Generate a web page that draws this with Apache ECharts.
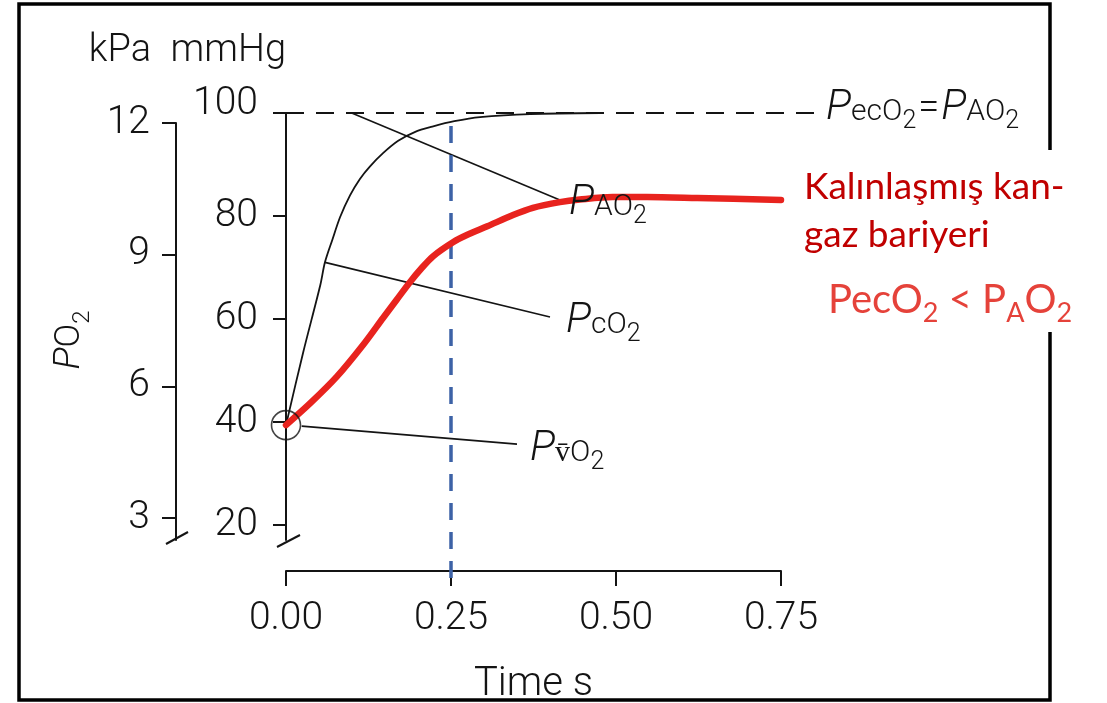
<!DOCTYPE html>
<html><head><meta charset="utf-8">
<script src="https://cdn.jsdelivr.net/npm/echarts@6/dist/echarts.min.js"></script>
<style>html,body{margin:0;padding:0;background:#fff}#c{width:1107px;height:703px}</style>
</head><body><div id="c"></div>
<script>
// ---------------- data ----------------
const mmHgTicks = [20, 40, 60, 80, 100];
const kPaTicks = [3, 6, 9, 12];
const timeTicks = [0, 0.25, 0.5, 0.75];

// normal capillary PO2 (black curve)
const normalTime = [0.000, 0.026, 0.052, 0.059, 0.070, 0.082, 0.097, 0.112, 0.127, 0.147, 0.170, 0.195, 0.223, 0.255, 0.294, 0.370, 0.476];
const normalPO2  = [39.4, 53.5, 66.6, 71.0, 75.3, 79.8, 84.0, 87.2, 89.6, 92.2, 94.6, 96.3, 97.4, 98.4, 99.2, 99.8, 100.0];

// thickened barrier capillary PO2 (red curve)
const thickTime = [0.000, 0.038, 0.077, 0.117, 0.147, 0.168, 0.188, 0.205, 0.223, 0.253, 0.274, 0.305, 0.344, 0.374, 0.415, 0.445, 0.495, 0.547, 0.623, 0.750];
const thickPO2  = [39.4, 43.8, 48.8, 55.0, 60.2, 63.8, 67.2, 69.8, 72.2, 74.9, 76.3, 78.0, 80.2, 81.6, 82.7, 83.2, 83.7, 83.7, 83.5, 83.1];

const alveolarPO2 = 100;     // PAO2 (dashed line)
const venousPO2 = 39.4;      // PvO2 (circle at t = 0)
const markerTime = 0.25;     // blue dashed line

// leader lines [time, PO2] pairs
const leaderPAO2 = [[0.0995, 100], [0.415, 83.1]];
const leaderPcO2 = [[0.059, 71.0], [0.400, 60.4]];
const leaderPvO2 = [[0.0238, 39.2], [0.350, 35.7]];

// ---------------- layout ----------------
const PX_PER_S = 660;
const G_LEFT = 286, G_TOP = 113, G_BOTTOM = 540, G_RIGHT = 820;
const K_LEFT = 176, K_TOP = 123;
const X_AXIS_Y = 571, X_AXIS_RIGHT = 781;
const mmHgPerPx = 1 / 5.15;
const kPaPerPx = 1 / 43.9;

const ink = '#141414';
const FONT = 'Roboto';
const FW = 300;

const pairs = (a, b) => a.map((v, i) => [v, b[i]]);

const chart = echarts.init(document.getElementById('c'), null, {renderer: 'canvas'});

const leaderSeries = (data) => ({
  type: 'line', xAxisIndex: 0, yAxisIndex: 0, data, showSymbol: false, clip: false,
  lineStyle: {color: ink, width: 1.6}, silent: true, z: 2
});

const option = {
  backgroundColor: '#fff',
  animation: false,
  grid: [
    {left: G_LEFT, top: G_TOP, width: G_RIGHT - G_LEFT, height: G_BOTTOM - G_TOP, outerBoundsMode: 'none', containLabel: false},
    {left: K_LEFT, top: K_TOP, width: 10, height: G_BOTTOM - K_TOP, outerBoundsMode: 'none', containLabel: false},
    {left: G_LEFT, top: G_TOP, width: X_AXIS_RIGHT - G_LEFT, height: X_AXIS_Y - G_TOP, outerBoundsMode: 'none', containLabel: false}
  ],
  xAxis: [
    {gridIndex: 0, type: 'value', min: 0, max: (G_RIGHT - G_LEFT) / PX_PER_S, show: false},
    {gridIndex: 1, type: 'value', min: 0, max: 1, show: false},
    {gridIndex: 2, type: 'value', min: 0, max: 0.75, interval: 0.25,
      axisLine: {show: true, onZero: false, lineStyle: {color: ink, width: 2}},
      axisTick: {show: true, inside: false, length: 15, lineStyle: {color: ink, width: 2}, customValues: timeTicks},
      axisLabel: {show: true, margin: 29, fontSize: 39, fontFamily: FONT, fontWeight: FW, color: ink, customValues: timeTicks,
        formatter: v => Number(v).toFixed(2)},
      splitLine: {show: false},
      name: 'Time s', nameLocation: 'middle', nameGap: 94,
      nameTextStyle: {fontSize: 40, fontFamily: FONT, fontWeight: FW, color: ink}
    }
  ],
  yAxis: [
    {gridIndex: 0, type: 'value', min: 100 - (G_BOTTOM - G_TOP) * mmHgPerPx, max: 100,
      axisLine: {show: true, onZero: false, lineStyle: {color: ink, width: 2}},
      axisTick: {show: true, inside: false, length: 13, lineStyle: {color: ink, width: 2}, customValues: mmHgTicks},
      axisLabel: {show: true, margin: 28, fontSize: 39, fontFamily: FONT, fontWeight: FW, color: ink, customValues: mmHgTicks,
        formatter: v => v === 100 ? '{up|100}' : String(v),
        rich: {up: {fontSize: 39, fontFamily: FONT, fontWeight: FW, color: ink, padding: [0, 0, 17, 0]}}},
      splitLine: {show: false},
      name: 'mmHg', nameLocation: 'end', nameGap: 43,
      nameTextStyle: {fontSize: 38, fontFamily: FONT, fontWeight: FW, color: ink, align: 'right', verticalAlign: 'bottom', padding: [0, 0, 0, 0]}
    },
    {gridIndex: 1, type: 'value', min: 12 - (G_BOTTOM - K_TOP) * kPaPerPx, max: 12,
      axisLine: {show: true, onZero: false, lineStyle: {color: ink, width: 2}},
      axisTick: {show: true, inside: false, length: 14, lineStyle: {color: ink, width: 2}, customValues: kPaTicks},
      axisLabel: {show: true, margin: 26, fontSize: 39, fontFamily: FONT, fontWeight: FW, color: ink, customValues: kPaTicks},
      splitLine: {show: false},
      name: 'kPa', nameLocation: 'end', nameGap: 53,
      nameTextStyle: {fontSize: 38, fontFamily: FONT, fontWeight: FW, color: ink, align: 'right', verticalAlign: 'bottom', padding: [0, 25, 0, 0]}
    },
    {gridIndex: 2, type: 'value', min: 0, max: 1, show: false}
  ],
  series: [
    {type: 'line', name: 'PAO2 dashed', xAxisIndex: 0, yAxisIndex: 0, showSymbol: false, clip: false, silent: true,
      data: [[0, alveolarPO2], [(G_RIGHT - G_LEFT) / PX_PER_S, alveolarPO2]],
      lineStyle: {color: ink, width: 1.8, type: [18, 12]}, z: 2},
    {type: 'line', name: 'normal', xAxisIndex: 0, yAxisIndex: 0, showSymbol: false, clip: false, silent: true,
      smooth: 0.3, data: pairs(normalTime, normalPO2),
      lineStyle: {color: ink, width: 1.8}, z: 2},
    leaderSeries(leaderPAO2),
    leaderSeries(leaderPcO2),
    leaderSeries(leaderPvO2),
    {type: 'line', name: 'marker', xAxisIndex: 0, yAxisIndex: 0, showSymbol: false, clip: false, silent: true,
      data: [[markerTime, 97.5], [markerTime, 7.4]],
      lineStyle: {color: '#3d62a6', width: 3.5, type: [17, 12]}, z: 3},
    {type: 'line', name: 'thick', xAxisIndex: 0, yAxisIndex: 0, showSymbol: false, clip: false, silent: true,
      smooth: 0.3, data: pairs(thickTime, thickPO2),
      lineStyle: {color: '#e8231e', width: 6.5, cap: 'round', join: 'round'}, z: 4},
    {type: 'scatter', xAxisIndex: 0, yAxisIndex: 0, clip: false, silent: true,
      data: [[0, venousPO2]], symbol: 'circle', symbolSize: 29,
      itemStyle: {color: 'rgba(0,0,0,0)', borderColor: ink, borderWidth: 1.6}, z: 5}
  ]
};
chart.setOption(option);

// ---------------- annotations ----------------
const richBlack = {
  P: {fontSize: 42, fontFamily: FONT, fontWeight: FW, fontStyle: 'italic', fill: ink},
  s: {fontSize: 30, fontFamily: FONT, fontWeight: FW, fill: ink, padding: [9, 0, 0, 0]},
  e: {fontSize: 38, fontFamily: FONT, fontWeight: FW, fill: ink, padding: [2, 2, 0, 2]},
  sub: {fontSize: 25, fontFamily: FONT, fontWeight: FW, fill: ink, padding: [28, 0, 0, 0]}
};
const redDark = '#c00000', redLight = '#e5423a';
const richRed = {
  m: {fontSize: 40, fontFamily: 'Lato', fill: redLight},
  sub: {fontSize: 27, fontFamily: 'Lato', fill: redLight, padding: [26, 0, 0, 0]}
};
const label = (x, y, text, rich) => ({type: 'text', x, y, silent: true, z: 10,
  style: {text, rich, align: 'left', verticalAlign: 'middle', fill: ink, fontSize: 40, fontFamily: FONT}});

chart.setOption({
  graphic: [
    // frame
    {type: 'polyline', silent: true, z: 20,
      shape: {points: [[1050, 150], [1050, 4], [19, 4], [19, 700], [1050, 700], [1050, 332]]},
      style: {stroke: '#000', lineWidth: 3.5, fill: 'none'}},
    // axis breaks
    {type: 'line', silent: true, shape: {x1: K_LEFT - 10, y1: G_BOTTOM + 4, x2: K_LEFT + 12, y2: G_BOTTOM - 8}, style: {stroke: ink, lineWidth: 2}},
    {type: 'line', silent: true, shape: {x1: G_LEFT - 9, y1: G_BOTTOM + 7, x2: G_LEFT + 14, y2: G_BOTTOM - 5}, style: {stroke: ink, lineWidth: 2}},
    // y title
    {type: 'text', x: 70, y: 340, rotation: Math.PI / 2, silent: true,
      style: {text: '{P|P}{o|O}{sub|2}', align: 'center', verticalAlign: 'middle', fill: ink,
        rich: {P: {fontSize: 37, fontFamily: FONT, fontWeight: FW, fontStyle: 'italic', fill: ink},
               o: {fontSize: 35, fontFamily: FONT, fontWeight: FW, fill: ink},
               sub: {fontSize: 24, fontFamily: FONT, fontWeight: FW, fill: ink, padding: [26, 0, 0, 0]}}}},
    // curve labels
    label(826, 108, '{P|P}{s|ecO}{sub|2}{e|=}{P|P}{s|AO}{sub|2}', richBlack),
    label(569, 203, '{P|P}{s|AO}{sub|2}', richBlack),
    label(566, 321, '{P|P}{s|cO}{sub|2}', richBlack),
    label(530, 449, '{P|P}{s|v\u0304O}{sub|2}', richBlack),
    // red annotation
    {type: 'text', x: 804, y: 163, silent: true, z: 10,
      style: {text: 'Kalınlaşmış kan-\ngaz bariyeri', fontSize: 37, fontFamily: 'Lato', fill: redDark,
        lineHeight: 48, align: 'left', verticalAlign: 'top'}},
    {type: 'text', x: 828, y: 300, silent: true, z: 10,
      style: {text: '{m|PecO}{sub|2}{m| < P}{sub|A}{m|O}{sub|2}', rich: richRed, align: 'left', verticalAlign: 'middle', fill: redLight}}
  ]
});
</script>
</body></html>
